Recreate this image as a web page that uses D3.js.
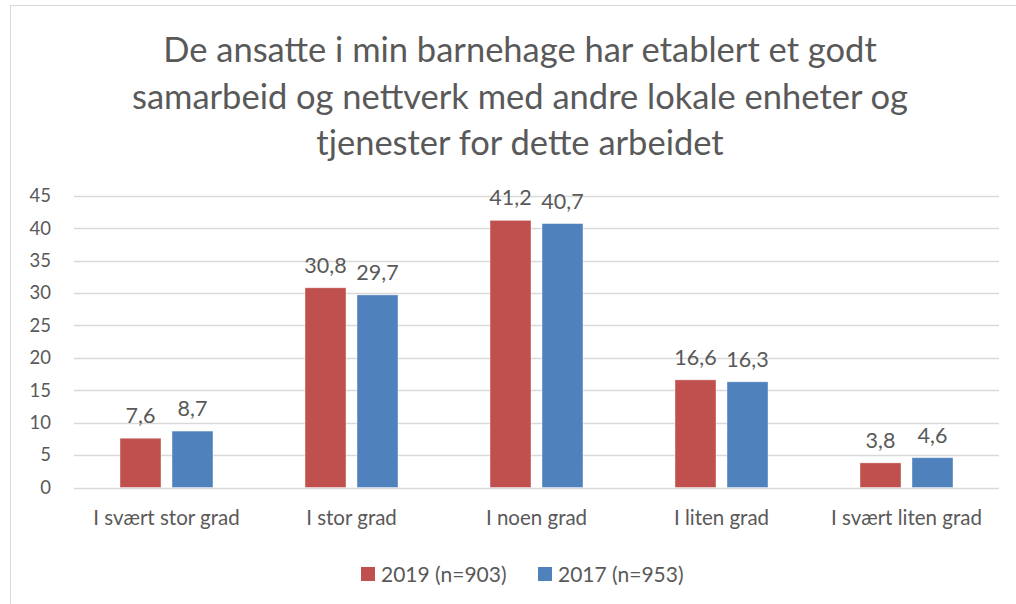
<!DOCTYPE html>
<html>
<head>
<meta charset="utf-8">
<script src="https://cdn.jsdelivr.net/npm/d3@7"></script>
<style>
  body { margin: 0; background: #fff; }
  text { font-family: Lato, "Open Sans", sans-serif; fill: #595959; }
</style>
</head>
<body>
<div id="chart"></div>
<script>
// Data
const categories = ["I svært stor grad", "I stor grad", "I noen grad", "I liten grad", "I svært liten grad"];
const seriesNames = ["2019 (n=903)", "2017 (n=953)"];
const values2019 = [7.6, 30.8, 41.2, 16.6, 3.8];
const values2017 = [8.7, 29.7, 40.7, 16.3, 4.6];
const yTicks = [0, 5, 10, 15, 20, 25, 30, 35, 40, 45];
const titleLines = [
  "De ansatte i min barnehage har etablert et godt",
  "samarbeid og nettverk med andre lokale enheter og",
  "tjenester for dette arbeidet"
];
const colors = ["#C0504D", "#4F81BD"];

const width = 1016, height = 604;
const svg = d3.select("#chart").append("svg")
  .attr("width", width).attr("height", height);

// ramme
svg.append("rect")
  .attr("x", 10.5).attr("y", 5.5)
  .attr("width", width + 10).attr("height", height + 10)
  .attr("fill", "#fff").attr("stroke", "#d9d9d9");

// tittel
svg.append("g").selectAll("text")
  .data(titleLines).enter().append("text")
  .attr("x", 520).attr("y", (d, i) => 62 + i * 46.5)
  .attr("text-anchor", "middle")
  .style("font-size", "34.5px")
  .text(d => d);

const x0 = d3.scaleBand().domain(categories).range([74, 999]);
const y = d3.scaleLinear().domain([0, 45]).range([487.5, 195.7]);

// rutenett
svg.append("g").selectAll("line")
  .data(yTicks).enter().append("line")
  .attr("x1", 74).attr("x2", 999)
  .attr("y1", d => Math.round(y(d)) + 0.5).attr("y2", d => Math.round(y(d)) + 0.5)
  .attr("stroke", "#d9d9d9").attr("stroke-width", 1.3);

// y-akse
const yAxis = svg.append("g")
  .attr("transform", "translate(51,0)")
  .call(d3.axisLeft(y).tickValues(yTicks).tickSize(0).tickPadding(0));
yAxis.select(".domain").remove();
yAxis.selectAll("text").style("font-size", "18.5px").style("fill", "#595959")
  .style("font-family", "Lato, 'Open Sans', sans-serif");

// x-akse
const xAxis = svg.append("g")
  .attr("transform", "translate(0,510)")
  .call(d3.axisBottom(x0).tickSize(0).tickPadding(0));
xAxis.select(".domain").remove();
xAxis.selectAll("text").style("font-size", "20.5px").style("fill", "#595959")
  .style("font-family", "Lato, 'Open Sans', sans-serif");

const barW = 41, gap = 11;
const x1 = d3.scaleOrdinal().domain([0, 1]).range([-barW - gap / 2, gap / 2]);
const rows = categories.map((c, i) => ({ cat: c, vals: [values2019[i], values2017[i]] }));

const groups = svg.append("g").selectAll("g")
  .data(rows).enter().append("g")
  .attr("transform", d => `translate(${x0(d.cat) + x0.bandwidth() / 2},0)`);

groups.selectAll("rect")
  .data(d => d.vals.map((v, s) => ({ v, s }))).enter().append("rect")
  .attr("x", d => x1(d.s))
  .attr("y", d => y(d.v))
  .attr("width", barW)
  .attr("height", d => y(0) - y(d.v))
  .attr("fill", d => colors[d.s])
  .attr("stroke", "#fff").attr("stroke-opacity", 0.5).attr("stroke-width", 0.8);

groups.selectAll("text.lbl")
  .data(d => d.vals.map((v, s) => ({ v, s }))).enter().append("text")
  .attr("class", "lbl")
  .attr("x", d => x1(d.s) + barW / 2)
  .attr("y", d => y(d.v) - 15)
  .attr("text-anchor", "middle")
  .style("font-size", "21.5px")
  .text(d => d3.format(".1f")(d.v).replace(".", ","));

// forklaring
const legendX = [361, 538];
const legend = svg.append("g").selectAll("g")
  .data(seriesNames).enter().append("g")
  .attr("transform", (d, i) => `translate(${legendX[i]},567)`);
legend.append("rect").attr("width", 14).attr("height", 14)
  .attr("fill", (d, i) => colors[i]);
legend.append("text").attr("x", 20).attr("y", 15)
  .style("font-size", "21px").text(d => d);
</script>
</body>
</html>
